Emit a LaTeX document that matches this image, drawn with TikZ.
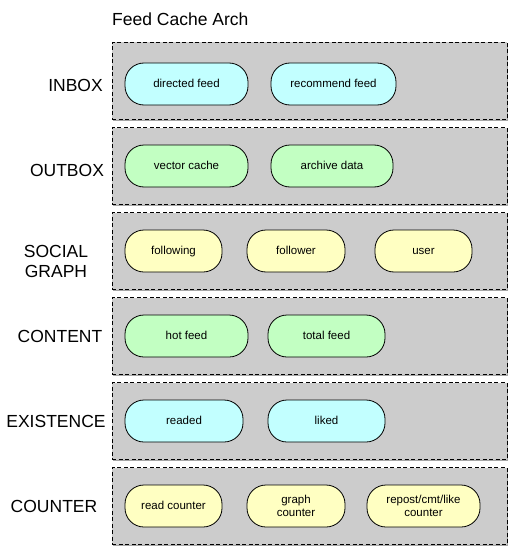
\documentclass[tikz,border=0pt]{standalone}
\usepackage{fontspec}
\setmainfont{Liberation Sans}
\usetikzlibrary{shadows}
\definecolor{panelgray}{HTML}{CCCCCC}
\definecolor{pcyan}{HTML}{C2FFFF}
\definecolor{pgreen}{HTML}{C2FFC2}
\definecolor{pyellow}{HTML}{FFFFC2}
\tikzset{
  panel/.style={draw=black, fill=panelgray, line width=0.8pt, dash pattern=on 4pt off 2.5pt,
    minimum width=395pt, minimum height=77pt, inner sep=0pt,
    drop shadow={shadow xshift=1.2pt, shadow yshift=-1.5pt, opacity=0.35, fill=black}},
  pill/.style={draw=black, line width=0.8pt, rounded corners=19pt, minimum height=42pt,
    inner sep=0pt, align=center, font=\fontsize{11.5}{13.5}\selectfont},
  oneline/.style={text height=8.5pt, text depth=2.5pt},
  cyanpill/.style={pill, fill=pcyan},
  greenpill/.style={pill, fill=pgreen},
  yellowpill/.style={pill, fill=pyellow},
  rowlabel/.style={inner sep=0pt, align=center, font=\fontsize{17.5}{20}\selectfont},
}
\begin{document}
\begin{tikzpicture}[x=1pt,y=-1pt]
\useasboundingbox (0,0) rectangle (511,551);
\node[inner sep=0pt, anchor=west, font=\fontsize{17.5}{20}\selectfont] (title) at (112,19) {Feed Cache Arch};

% panels
\node[panel] (p1) at (309.5,81) {};
\node[panel] (p2) at (309.5,166) {};
\node[panel] (p3) at (309.5,251) {};
\node[panel] (p4) at (309.5,336) {};
\node[panel] (p5) at (309.5,421) {};
\node[panel] (p6) at (309.5,506) {};

% labels
\node[rowlabel] (l1) at (75.5,85) {INBOX};
\node[rowlabel] (l2) at (67,170) {OUTBOX};
\node[rowlabel] (l3) at (56,261) {SOCIAL\\GRAPH};
\node[rowlabel] (l4) at (60,336) {CONTENT};
\node[rowlabel] (l5) at (56,421) {EXISTENCE};
\node[rowlabel] (l6) at (54,506) {COUNTER};

% row 1
\node[cyanpill, oneline, minimum width=123pt] (a1) at (186.5,84) {directed feed};
\node[cyanpill, oneline, minimum width=125pt] (a2) at (333.5,84) {recommend feed};
% row 2
\node[greenpill, oneline, minimum width=123pt] (b1) at (186.5,166) {vector cache};
\node[greenpill, oneline, minimum width=122pt] (b2) at (332,166) {archive data};
% row 3
\node[yellowpill, oneline, minimum width=97pt] (c1) at (173.5,251) {following};
\node[yellowpill, oneline, minimum width=98pt] (c2) at (296,251) {follower};
\node[yellowpill, oneline, minimum width=97pt] (c3) at (423.5,251) {user};
% row 4
\node[greenpill, oneline, minimum width=123pt] (d1) at (186.5,336) {hot feed};
\node[greenpill, oneline, minimum width=117pt] (d2) at (326.5,336) {total feed};
% row 5
\node[cyanpill, oneline, minimum width=118pt] (e1) at (184,421) {readed};
\node[cyanpill, oneline, minimum width=117pt] (e2) at (326.5,421) {liked};
% row 6
\node[yellowpill, oneline, minimum width=97pt] (f1) at (173.5,506) {read counter};
\node[yellowpill, minimum width=98pt] (f2) at (296,506) {graph\\counter};
\node[yellowpill, minimum width=113pt] (f3) at (423.5,506) {repost/cmt/like\\counter};
\end{tikzpicture}
\end{document}
